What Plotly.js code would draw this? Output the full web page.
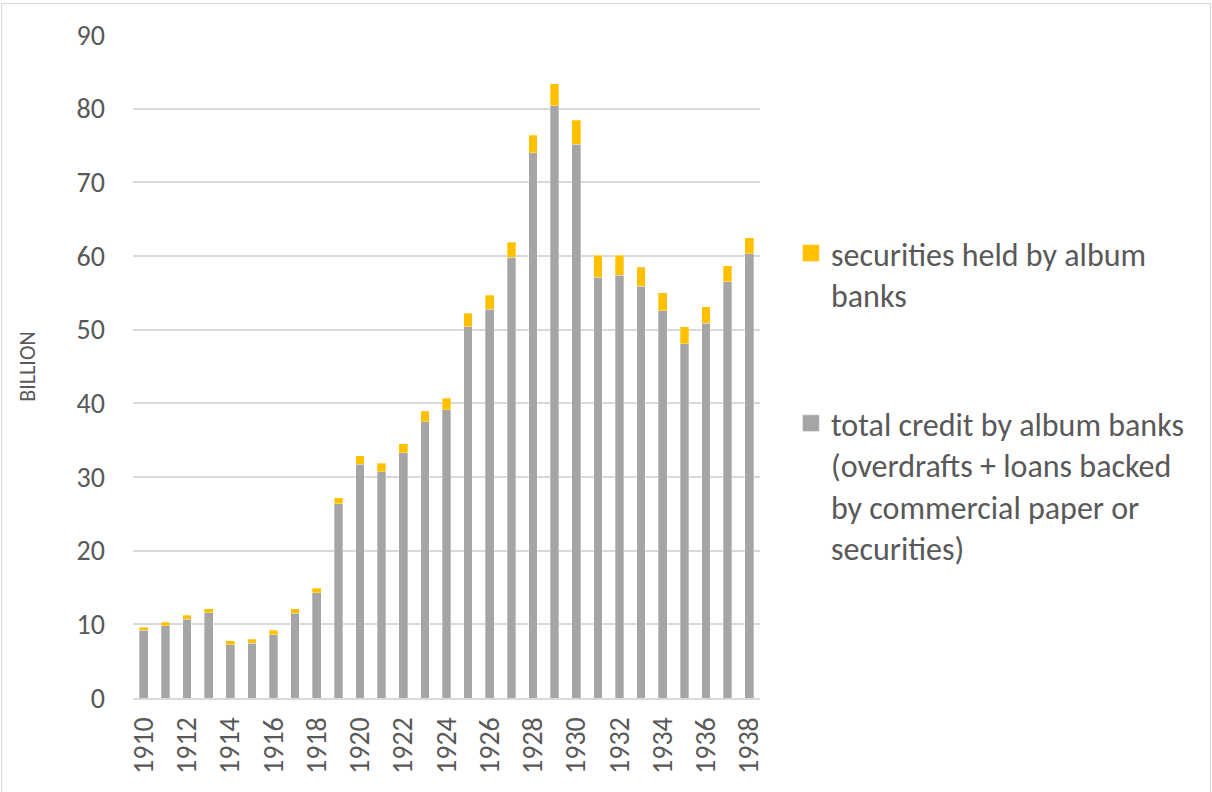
<!DOCTYPE html>
<html>
<head>
<meta charset="utf-8">
<script src="https://cdn.plot.ly/plotly-3.0.1.min.js"></script>
<style>
  html, body { margin: 0; padding: 0; background: #ffffff; }
  #chart { position: absolute; left: 0; top: 0; width: 1212px; height: 792px; }
  #frame { position: absolute; left: 1px; top: 3px; width: 1208px; height: 800px;
           border: 1.5px solid #D9D9D9; pointer-events: none; }
</style>
</head>
<body>
<div id="chart"></div>
<div id="frame"></div>
<script>
const years = [1910,1911,1912,1913,1914,1915,1916,1917,1918,1919,1920,1921,1922,1923,1924,
               1925,1926,1927,1928,1929,1930,1931,1932,1933,1934,1935,1936,1937,1938];
const totalCredit = [9.2,9.8,10.7,11.6,7.2,7.4,8.6,11.5,14.3,26.4,31.7,30.7,33.3,37.5,39.1,
                     50.4,52.8,59.8,74.0,80.4,75.2,57.1,57.4,55.9,52.6,48.1,50.9,56.5,60.3];
const securities = [0.4,0.5,0.5,0.5,0.6,0.6,0.6,0.6,0.6,0.8,1.2,1.2,1.2,1.4,1.6,
                    1.8,1.9,2.1,2.4,3.0,3.2,3.0,2.7,2.6,2.4,2.3,2.2,2.2,2.2];
const xTickVals = [1910,1912,1914,1916,1918,1920,1922,1924,1926,1928,1930,1932,1934,1936,1938];
const xTickText = ["1910","1912","1914","1916","1918","1920","1922","1924","1926","1928","1930","1932","1934","1936","1938"];
const yTickVals = [0,10,20,30,40,50,60,70,80,90];

const nameCredit = "total credit by album banks<br>(overdrafts + loans backed<br>by commercial paper or<br>securities)";
const nameSec = "securities held by album<br>banks";

const FONT = "Carlito, Calibri, Lato, 'Open Sans', sans-serif";
const TXT = "#595959";

const traces = [
  { type: "bar", x: years, y: totalCredit, name: nameCredit, legendgroup: "g2", legendrank: 2,
    marker: { color: "#A5A5A5", line: { color: "rgba(255,255,255,0.5)", width: 0.6 } },
    hoverinfo: "x+y" },
  { type: "bar", x: years, y: securities, name: nameSec, legendgroup: "g1", legendrank: 1,
    marker: { color: "#FFC000", line: { color: "rgba(255,255,255,0.5)", width: 0.6 } },
    hoverinfo: "x+y" }
];

const layout = {
  width: 1212, height: 792,
  margin: { l: 132.5, r: 452, t: 35, b: 94, pad: 0 },
  paper_bgcolor: "#ffffff", plot_bgcolor: "#ffffff",
  barmode: "stack", bargap: 0.6,
  font: { family: FONT, color: TXT, size: 28 },
  xaxis: {
    range: [1909.5, 1938.5],
    tickmode: "array", tickvals: xTickVals, ticktext: xTickText,
    tickangle: -90, showgrid: false, zeroline: false,
    showline: true, linecolor: "#D9D9D9", linewidth: 2,
    ticks: "", ticklabelstandoff: 6,
    tickfont: { family: FONT, color: TXT, size: 28 }
  },
  yaxis: {
    range: [0, 90], tickmode: "array", tickvals: yTickVals,
    showgrid: true, gridcolor: "#D9D9D9", gridwidth: 2,
    zeroline: false, showline: false, ticks: "", ticklabelstandoff: 27,
    tickfont: { family: FONT, color: TXT, size: 28 },
    title: { text: "BILLION", standoff: 34, font: { family: FONT, color: TXT, size: 22 } }
  },
  showlegend: true,
  legend: {
    xref: "container", yref: "container",
    x: 0.6526, y: 0.715, xanchor: "left", yanchor: "top",
    traceorder: "grouped", tracegroupgap: 84, valign: "top",
    font: { family: FONT, color: TXT, size: 32 },
    bgcolor: "rgba(0,0,0,0)"
  }
};

Plotly.newPlot("chart", traces, layout, { displayModeBar: false, staticPlot: true }).then(function (gd) {
  // enlarge the legend colour squares to match the reference swatch size
  gd.querySelectorAll(".legend .legendpoints path").forEach(function (p) {
    const t = p.getAttribute("transform") || "";
    p.setAttribute("transform", t + " scale(1.4)");
  });
});
</script>
</body>
</html>
